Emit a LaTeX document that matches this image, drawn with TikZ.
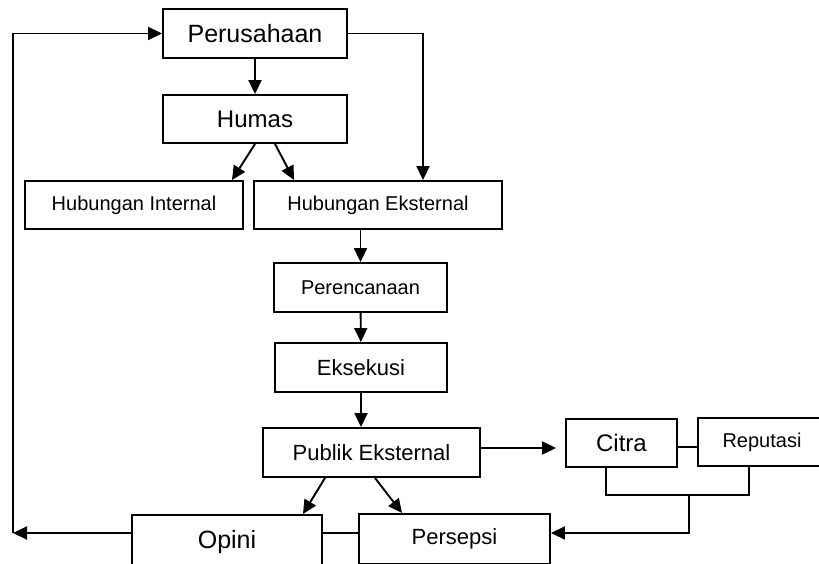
\documentclass[tikz,border=0pt]{standalone}
\usepackage{fontspec}
\setmainfont{Liberation Sans}
\usetikzlibrary{arrows.meta,calc}
\begin{document}
\begin{tikzpicture}[x=1pt,y=-1pt,
  box/.style={draw, line width=1.9pt, inner sep=0pt, align=center},
  arr/.style={-{Triangle[length=14pt,width=13pt]}, line width=1.9pt},
  ln/.style={line width=1.9pt},
  fA/.style={font=\fontsize{25}{30}\selectfont},
  fB/.style={font=\fontsize{20}{24}\selectfont},
  fC/.style={font=\fontsize{22}{26}\selectfont},
  fD/.style={font=\fontsize{24}{28}\selectfont}]
\useasboundingbox (0,0) rectangle (819,563);
\clip (0,0) rectangle (819,563);
% boxes
\node[box,fA,minimum width=184pt,minimum height=49pt] (per) at (255,33.5) {Perusahaan};
\node[box,fD,minimum width=184pt,minimum height=48pt] (hum) at (255,119) {Humas};
\node[box,fB,minimum width=218pt,minimum height=48pt] (hint) at (134,205) {Hubungan Internal};
\node[box,fB,minimum width=248pt,minimum height=48pt] (hext) at (378,205) {Hubungan Eksternal};
\node[box,fB,minimum width=173pt,minimum height=49pt] (pren) at (360.5,287.5) {Perencanaan};
\node[box,fC,minimum width=172pt,minimum height=49pt] (eks) at (361,367.5) {Eksekusi};
\node[box,fC,minimum width=217pt,minimum height=49pt] (pub) at (371.5,452.5) {Publik Eksternal};
\node[box,fD,minimum width=111pt,minimum height=48pt] (cit) at (621.5,443) {Citra};
\node[box,fB,minimum width=128pt,minimum height=48pt] (rep) at (762,442) {Reputasi};
\node[box,fA,minimum width=190pt,minimum height=54pt] (opi) at (227,542) {Opini};
\node[box,fC,minimum width=191pt,minimum height=50pt] (pers) at (454.5,539) {Persepsi};
% helper coordinates
\coordinate (L) at (13,533);
\coordinate (R) at (423,100);
\coordinate (J) at (689,494);
% connectors
\draw[arr] (per) -- (hum);
\draw[arr] (per.east) -- (per.east -| R) -- (R |- hext.north);
\draw[arr] (hum.south) -- ([xshift=-12pt]hint.north east);
\draw[arr] ([xshift=20pt]hum.south) -- ([xshift=41pt]hext.north west);
\draw[arr] (pren.north |- hext.south) -- (pren.north);
\draw[arr] (pren) -- (eks);
\draw[arr] (eks.south) -- (eks.south |- pub.north);
\draw[arr, shorten >=9pt] ([yshift=4.5pt]pub.east) -- ([yshift=4.5pt]pub.east -| cit.west);
\draw[ln] ([yshift=-4pt]cit.east) -- ([yshift=-4pt]cit.east -| rep.west);
\draw[ln] ([xshift=-15.5pt]cit.south) -- ++(0,27) -| ([xshift=-13pt]rep.south);
\draw[arr] (J) |- ([yshift=6pt]pers.east);
\draw[ln] ([yshift=9pt]opi.east) -- ([yshift=9pt]opi.east -| pers.west);
\draw[arr] ([xshift=-46.5pt]pub.south) -- ([xshift=-20pt]opi.north east);
\draw[arr] ([xshift=3.5pt]pub.south) -- ([xshift=44pt]pers.north west);
\draw[arr] ([yshift=9pt]opi.west) -- (L);
\draw[arr] (L) -- (L |- per.west) -- (per.west);
\end{tikzpicture}
\end{document}
